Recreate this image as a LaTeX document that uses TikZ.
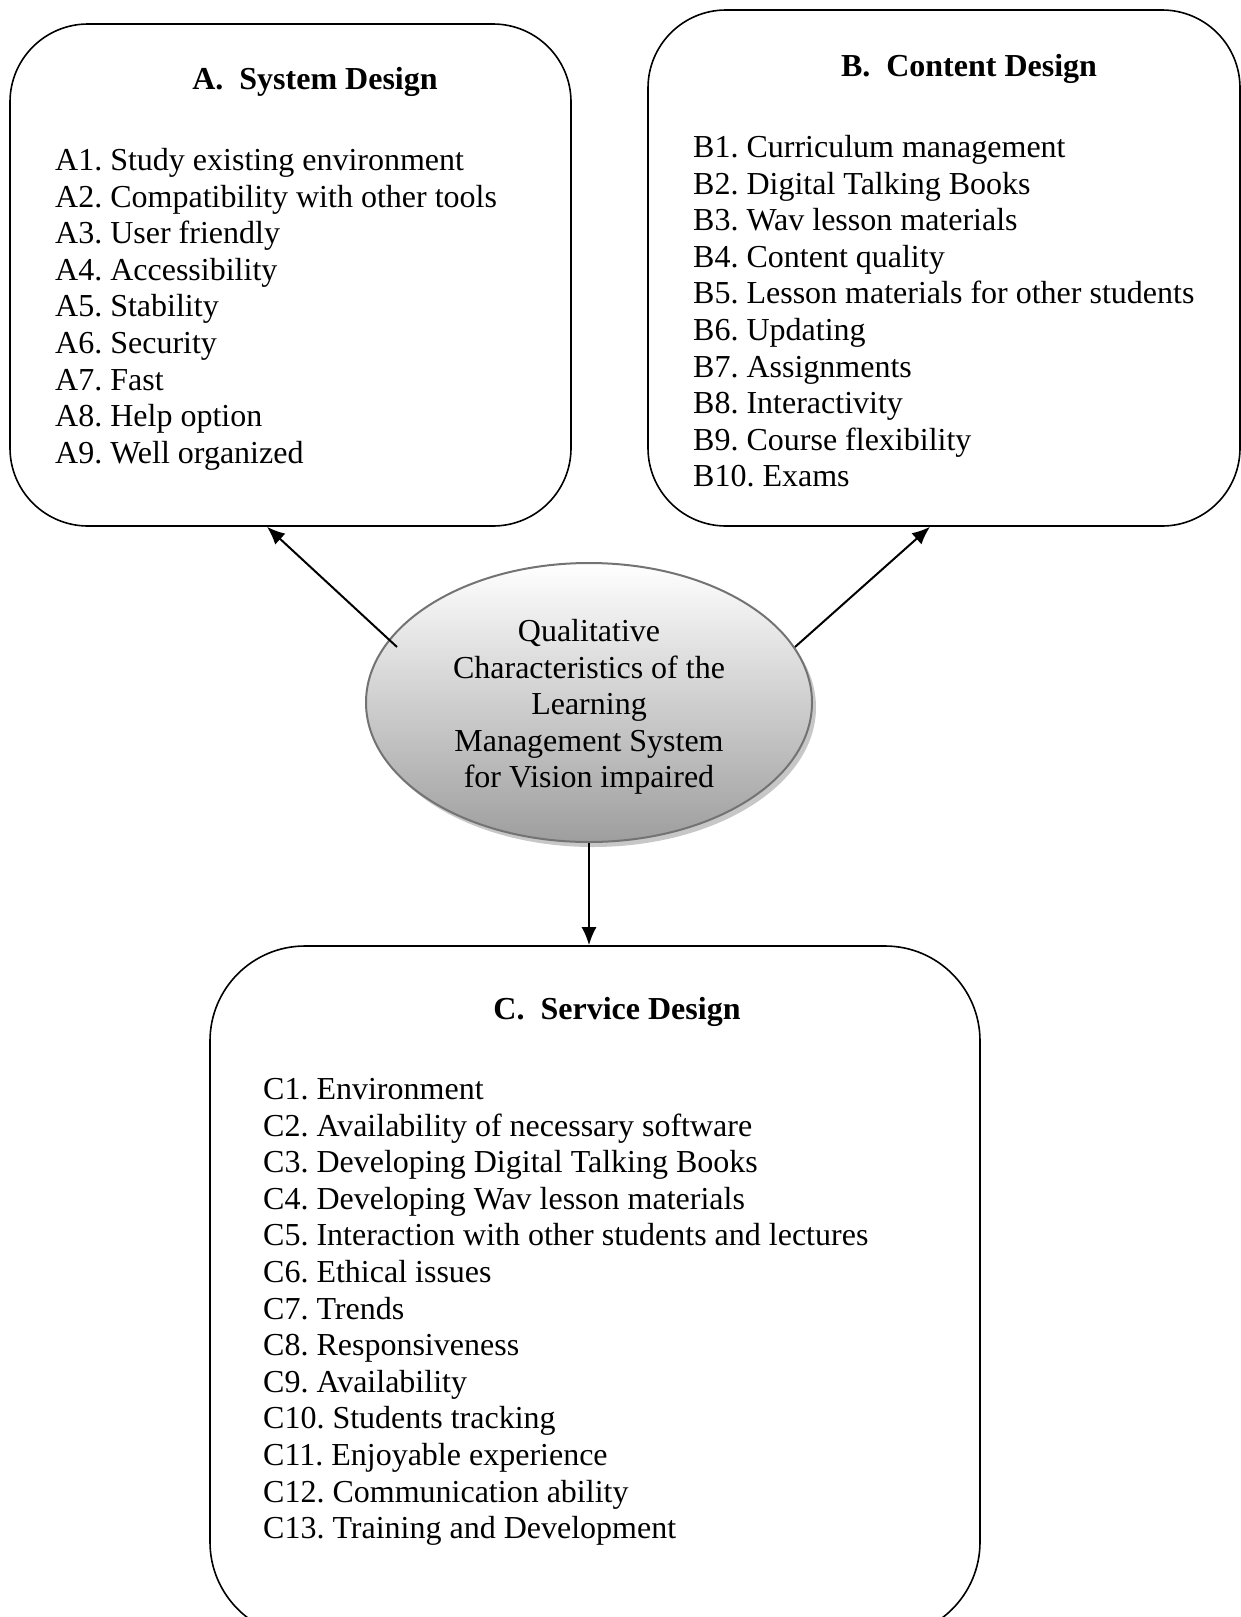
\documentclass[tikz,border=0pt]{standalone}
\usepackage{fontspec}
\setmainfont{Liberation Serif}
\usetikzlibrary{shapes.geometric,shadows,arrows.meta,calc}
\frenchspacing
\begin{document}
\begin{tikzpicture}[x=1pt,y=-1pt,
  box/.style={draw=black, line width=1.6pt, inner sep=0pt},
  ttl/.style={font=\fontsize{32}{36.6}\selectfont\bfseries, anchor=base, inner sep=0pt},
  lst/.style={font=\fontsize{32}{36.6}\selectfont, align=left, anchor=north west, inner sep=0pt},
  arr/.style={line width=2pt, -{Latex[length=18pt,width=15pt]}},
  hub/.style={ellipse, draw=black!55, line width=2pt, top color=white, bottom color=black!38,
    minimum width=446pt, minimum height=279pt, inner sep=0pt,
    drop shadow={shadow xshift=4pt, shadow yshift=-5pt, fill=black!22, opacity=1}},
  hubtext/.style={align=center, inner sep=0pt, font=\fontsize{32}{36.6}\selectfont}
]
\useasboundingbox (0,0) rectangle (1241,1617);

% boxes
\node[box, rounded corners=78pt, minimum width=561pt, minimum height=502pt] (A) at (290.5,275) {};
\node[box, rounded corners=78pt, minimum width=592pt, minimum height=516pt] (B) at (944,268) {};
\node[box, rounded corners=95pt, minimum width=770pt, minimum height=691pt] (C) at (595,1291.5) {};

% titles
\node[ttl] (Atitle) at (315,89) {A.\ \ System Design};
\node[ttl] (Btitle) at (969,76) {B.\ \ Content Design};
\node[ttl] (Ctitle) at (617,1019) {C.\ \ Service Design};

% lists
\node[lst] (Alist) at (55,148) {A1. Study existing environment\\A2. Compatibility with other tools\\A3. User friendly\\A4. Accessibility\\A5. Stability\\A6. Security\\A7. Fast\\A8. Help option\\A9. Well organized};
\node[lst] (Blist) at (693,135) {B1. Curriculum management\\B2. Digital Talking Books\\B3. Wav lesson materials\\B4. Content quality\\B5. Lesson materials for other students\\B6. Updating\\B7. Assignments\\B8. Interactivity\\B9. Course flexibility\\B10. Exams};
\node[lst] (Clist) at (263,1078) {C1. Environment\\C2. Availability of necessary software\\C3. Developing Digital Talking Books\\C4. Developing Wav lesson materials\\C5. Interaction with other students and lectures\\C6. Ethical issues\\C7. Trends\\C8. Responsiveness\\C9. Availability\\C10. Students tracking\\C11. Enjoyable experience\\C12. Communication ability\\C13. Training and Development};

% hub
\node[hub] (E) at (589,702.5) {};
\node[hubtext] (Etext) at (589,707) {Qualitative\\Characteristics of the\\Learning\\Management System\\for Vision impaired};

% connectors
\coordinate (sA) at ($(E.center)+(-192,-55.5)$);
\coordinate (tA) at ($(A.south)+(-23.5,0)$);
\coordinate (sB) at ($(E.center)+(206,-55.5)$);
\coordinate (tB) at ($(B.south)+(-14,0)$);
\draw[arr] (sA) -- (tA);
\draw[arr] (sB) -- (tB);
\draw[arr] (E.south) -- (E.south |- C.north);
\end{tikzpicture}
\end{document}
